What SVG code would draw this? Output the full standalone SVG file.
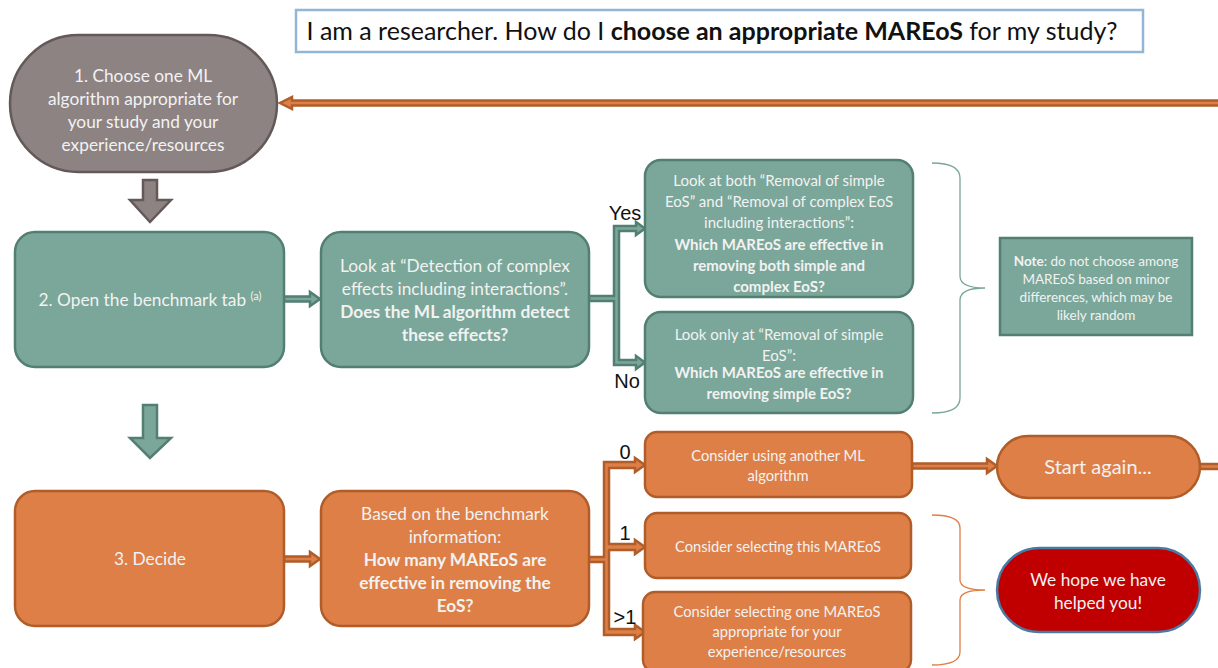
<svg xmlns="http://www.w3.org/2000/svg" width="1218" height="668" viewBox="0 0 1218 668">
<style>
text{font-family:Lato,"Open Sans","Liberation Sans",sans-serif;text-anchor:middle;fill:#f2f2f2}
.grey{fill:#8d8383;stroke:#635959;stroke-width:2.5}
.teal{fill:#7aa799;stroke:#527f72;stroke-width:2.5}
.orange{fill:#de7f47;stroke:#b05d2a;stroke-width:2.5}
.red{fill:#c00000;stroke:#4a7aa3;stroke-width:2.5}
.b{font-weight:bold}
.t16{font-size:17.3px}
.t14{font-size:15px}
.t13{font-size:14.7px}
.t12{font-size:13.5px}
.lbl{fill:#111;font-size:20px;font-family:"Liberation Sans",Arial,sans-serif}
.brace{fill:none;stroke-width:1.3}
</style>
<rect width="1218" height="668" fill="#fff"/>
<g id="title">
<rect x="296" y="10" width="847" height="42" fill="#fff" stroke="#94b6d6" stroke-width="2.5"/>
<text x="712" y="40" style="font-size:25px;fill:#111">I am a researcher. How do I <tspan class="b">choose an appropriate MAREoS</tspan> for my study?</text>
</g>
<g id="connectors">
<path class="orange" stroke-width="1" d="M1220,100.5 L292,100.5 L292,97 L280,103 L292,109 L292,105.5 L1220,105.5 Z"/>
<path class="grey" stroke-width="2" d="M143,180 L157,180 L157,200 L171,200 L150,222 L130,200 L143,200 Z"/>
<path class="teal" stroke-width="2" d="M143,405 L157,405 L157,438 L171,438 L150,458 L130,438 L143,438 Z"/>
<path class="teal" stroke-width="1.5" d="M284,296.5 L310,296.5 L310,292 L320,299 L310,306 L310,301.5 L284,301.5 Z"/>
<path class="orange" stroke-width="1.5" d="M284,556.5 L310,556.5 L310,552 L320,559 L310,566 L310,561.5 L284,561.5 Z"/>
<path class="teal" stroke-width="1.5" d="M589,296 L614,296 L614,226 L636,226 L636,222 L645,228.5 L636,235 L636,231 L619,231 L619,360 L636,360 L636,356 L645,362.5 L636,369 L636,365 L614,365 L614,301 L589,301 Z"/>
<path class="orange" stroke-width="1.5" d="M589,557 L604,557 L604,462 L635,462 L635,458 L645,465 L635,472 L635,468 L609,468 L609,544 L635,544 L635,540 L645,547 L635,554 L635,550 L609,550 L609,629 L635,629 L635,625 L645,632 L635,639 L635,635 L604,635 L604,562 L589,562 Z"/>
<path class="orange" stroke-width="1.5" d="M912,463.5 L987,463.5 L987,459 L997,466 L987,473 L987,468.5 L912,468.5 Z"/>
<path class="orange" stroke-width="1.5" d="M1198,464 L1220,464 L1220,469 L1198,469 Z"/>
<path class="brace" stroke="#7aa799" d="M932,163 Q960,163 960,178 L960,276 Q960,288 985,288 Q960,288 960,300 L960,398 Q960,413 932,413"/>
<path class="brace" stroke="#de7f47" d="M932,515 Q960,515 960,528 L960,580 Q960,590 985,590 Q960,590 960,600 L960,652 Q960,665 932,665"/>
<text class="lbl" x="625" y="220">Yes</text>
<text class="lbl" x="627" y="388">No</text>
<text class="lbl" x="625" y="459">0</text>
<text class="lbl" x="625" y="540">1</text>
<text class="lbl" x="625" y="624">&gt;1</text>
</g>
<g id="node1">
<rect class="grey" x="10" y="35" width="267" height="137" rx="68.5"/>
<text class="t16" x="143" y="82">1. Choose one ML</text>
<text class="t16" x="143" y="105">algorithm appropriate for</text>
<text class="t16" x="143" y="128">your study and your</text>
<text class="t16" x="143" y="151">experience/resources</text>
</g>
<g id="node2">
<rect class="teal" x="15" y="232" width="269" height="135" rx="20"/>
<text class="t16" x="150" y="306">2. Open the benchmark tab <tspan font-size="11" dy="-6">(a)</tspan></text>
</g>
<g id="node3">
<rect class="teal" x="321" y="232" width="268" height="135" rx="20"/>
<text class="t16" x="455" y="272">Look at “Detection of complex</text>
<text class="t16" x="455" y="295">effects including interactions”.</text>
<text class="t16 b" x="455" y="318">Does the ML algorithm detect</text>
<text class="t16 b" x="455" y="341">these effects?</text>
</g>
<g id="nodeYes">
<rect class="teal" x="645" y="160" width="268" height="137" rx="16"/>
<text class="t14" x="779" y="186">Look at both “Removal of simple</text>
<text class="t14" x="779" y="207">EoS” and “Removal of complex EoS</text>
<text class="t14" x="779" y="228">including interactions”:</text>
<text class="t14 b" x="779" y="250">Which MAREoS are effective in</text>
<text class="t14 b" x="779" y="271">removing both simple and</text>
<text class="t14 b" x="779" y="292">complex EoS?</text>
</g>
<g id="nodeNo">
<rect class="teal" x="645" y="312" width="268" height="101" rx="16"/>
<text class="t14" x="779" y="340">Look only at “Removal of simple</text>
<text class="t14" x="779" y="361">EoS”:</text>
<text class="t14 b" x="779" y="378">Which MAREoS are effective in</text>
<text class="t14 b" x="779" y="399">removing simple EoS?</text>
</g>
<g id="note">
<rect class="teal" x="1000" y="238" width="192" height="97"/>
<text class="t12" x="1096" y="266"><tspan class="b">Note</tspan>: do not choose among</text>
<text class="t12" x="1096" y="284">MAREoS based on minor</text>
<text class="t12" x="1096" y="302">differences, which may be</text>
<text class="t12" x="1096" y="320">likely random</text>
</g>
<g id="node4">
<rect class="orange" x="15" y="491" width="269" height="135" rx="20"/>
<text class="t16" x="150" y="565">3. Decide</text>
</g>
<g id="node5">
<rect class="orange" x="321" y="491" width="268" height="135" rx="20"/>
<text class="t16" x="455" y="520">Based on the benchmark</text>
<text class="t16" x="455" y="543">information:</text>
<text class="t16 b" x="455" y="566">How many MAREoS are</text>
<text class="t16 b" x="455" y="589">effective in removing the</text>
<text class="t16 b" x="455" y="612">EoS?</text>
</g>
<g id="node0">
<rect class="orange" x="645" y="432" width="267" height="65" rx="12"/>
<text class="t13" x="778" y="461">Consider using another ML</text>
<text class="t13" x="778" y="481">algorithm</text>
</g>
<g id="nodeOne">
<rect class="orange" x="645" y="513" width="266" height="65" rx="12"/>
<text class="t13" x="778" y="552">Consider selecting this MAREoS</text>
</g>
<g id="nodeMany">
<rect class="orange" x="643" y="592" width="268" height="80" rx="12"/>
<text class="t13" x="777" y="617">Consider selecting one MAREoS</text>
<text class="t13" x="777" y="637">appropriate for your</text>
<text class="t13" x="777" y="657">experience/resources</text>
</g>
<g id="startAgain">
<rect class="orange" x="997" y="436" width="203" height="62" rx="31"/>
<text x="1098" y="474" style="font-size:20px">Start again...</text>
</g>
<g id="hope">
<rect class="red" x="997" y="548" width="203" height="84" rx="42"/>
<text class="t16" x="1098" y="586">We hope we have</text>
<text class="t16" x="1098" y="609">helped you!</text>
</g>
</svg>
